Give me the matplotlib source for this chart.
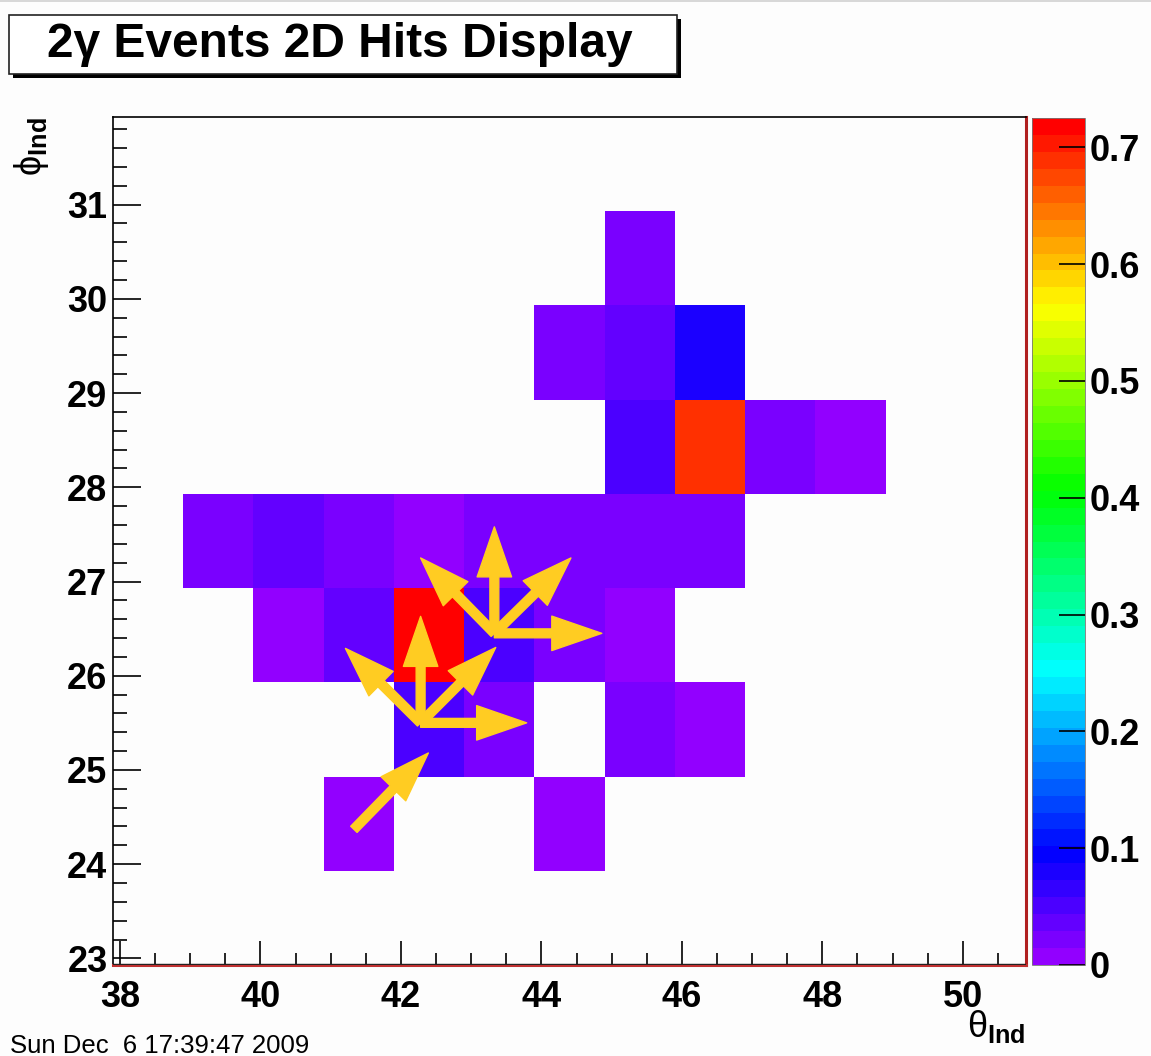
import colorsys
import numpy as np
import matplotlib
matplotlib.use("Agg")
import matplotlib.pyplot as plt
from matplotlib.colors import ListedColormap, Normalize
from matplotlib.patches import Rectangle, FancyArrowPatch
from matplotlib.ticker import MultipleLocator

# ---------------- data ----------------
theta_edges_start = 37.9      # first bin edge of theta axis
phi_edges_start = 22.93       # first bin edge of phi axis
n_theta_bins = 13
n_phi_bins = 9

# occupied bins (bin centers) and their values
hit_theta = [41.4, 44.4,
             42.4, 43.4, 45.4, 46.4,
             40.4, 41.4, 42.4, 43.4, 44.4, 45.4,
             39.4, 40.4, 41.4, 42.4, 43.4, 44.4, 45.4, 46.4,
             45.4, 46.4, 47.4, 48.4,
             44.4, 45.4, 46.4,
             45.4]
hit_phi = [24.43, 24.43,
           25.43, 25.43, 25.43, 25.43,
           26.43, 26.43, 26.43, 26.43, 26.43, 26.43,
           27.43, 27.43, 27.43, 27.43, 27.43, 27.43, 27.43, 27.43,
           28.43, 28.43, 28.43, 28.43,
           29.43, 29.43, 29.43,
           30.43]
hit_value = [0.007, 0.007,
             0.051, 0.022, 0.022, 0.007,
             0.007, 0.036, 0.725, 0.051, 0.022, 0.007,
             0.022, 0.036, 0.022, 0.007, 0.022, 0.022, 0.022, 0.022,
             0.051, 0.689, 0.022, 0.007,
             0.022, 0.036, 0.080,
             0.022]

# arrows (data coordinates): tail -> head
arrow_x0 = [41.33, 42.28, 42.28, 42.28, 42.28, 43.33, 43.33, 43.33, 43.33]
arrow_y0 = [24.37, 25.50, 25.50, 25.50, 25.50, 26.45, 26.45, 26.45, 26.45]
arrow_x1 = [42.39, 42.28, 41.21, 43.35, 43.79, 43.33, 42.28, 44.42, 44.86]
arrow_y1 = [25.18, 26.63, 26.29, 26.30, 25.50, 27.58, 27.25, 27.25, 26.45]

x_ticks = [38, 40, 42, 44, 46, 48, 50]
y_ticks = [23, 24, 25, 26, 27, 28, 29, 30, 31]
z_ticks = [0, 0.1, 0.2, 0.3, 0.4, 0.5, 0.6, 0.7]
z_tick_labels = ["0", "0.1", "0.2", "0.3", "0.4", "0.5", "0.6", "0.7"]

title_text = "2\u03b3 Events 2D Hits Display"
date_text = "Sun Dec  6 17:39:47 2009"

# ---------------- ROOT "pretty" palette ----------------
pal = []
for i in range(50):
    hue = 280.0 - (i + 1) * (280.0 / 50)
    pal.append(colorsys.hls_to_rgb(hue / 360.0, 0.5, 1.0))
cmap = ListedColormap(pal)
cmap.set_bad((1, 1, 1, 0))

W, H = 1151, 1056
fig = plt.figure(figsize=(W / 100, H / 100), dpi=100)
fig.patch.set_facecolor("#fdfdfd")

FONT = "Liberation Sans"
plt.rcParams["mathtext.fontset"] = "custom"
plt.rcParams["mathtext.rm"] = FONT
plt.rcParams["mathtext.bf"] = FONT + ":bold"
plt.rcParams["mathtext.it"] = FONT + ":italic"


def fx(px):
    return px / W


def fy(py):
    return 1 - py / H


ax = fig.add_axes([fx(113), fy(965), fx(1026) - fx(113), fy(117) - fy(965)])
ax.set_facecolor("#fdfdfd")

xe = theta_edges_start + np.arange(n_theta_bins + 1)
ye = phi_edges_start + np.arange(n_phi_bins + 1)
Z = np.full((n_phi_bins, n_theta_bins), np.nan)
for t, p, v in zip(hit_theta, hit_phi, hit_value):
    ix = int(np.floor(t - theta_edges_start))
    iy = int(np.floor(p - phi_edges_start))
    Z[iy, ix] = v
zmax = max(hit_value)
norm = Normalize(vmin=0, vmax=zmax)
mesh = ax.pcolormesh(xe, ye, np.ma.masked_invalid(Z), cmap=cmap, norm=norm,
                     linewidth=0, antialiased=False)

ax.set_xlim(xe[0], xe[-1])
ax.set_ylim(ye[0], ye[-1])
ax.set_xticks(x_ticks)
ax.set_yticks(y_ticks)
ax.xaxis.set_minor_locator(MultipleLocator(0.5))
ax.yaxis.set_minor_locator(MultipleLocator(0.2))
ax.tick_params(axis="x", which="major", direction="in", length=17, width=1.2,
               pad=11, labelsize=26, top=False)
ax.tick_params(axis="x", which="minor", direction="in", length=8.5, width=1.2,
               top=False)
ax.tick_params(axis="y", which="major", direction="in", length=20, width=1.2,
               pad=4, labelsize=26, right=False)
ax.tick_params(axis="y", which="minor", direction="in", length=10, width=1.2,
               right=False)
for lab in ax.get_xticklabels() + ax.get_yticklabels():
    lab.set_fontfamily(FONT)
    lab.set_fontweight("bold")
ax.spines["right"].set_color("#b02020")
ax.spines["right"].set_linewidth(2.2)
ax.spines["bottom"].set_color("#c03030")
ax.spines["bottom"].set_linewidth(2.2)
ax.spines["left"].set_linewidth(1.2)
ax.spines["top"].set_linewidth(1.2)
ax.axhline(ye[0] + 0.006, color="#222222", lw=1.0, zorder=5)

for x0, y0, x1, y1 in zip(arrow_x0, arrow_y0, arrow_x1, arrow_y1):
    a = FancyArrowPatch((x0, y0), (x1, y1),
                        arrowstyle="simple,head_length=0.9,head_width=0.62,tail_width=0.16",
                        mutation_scale=40, color="#ffcc22", shrinkA=0, shrinkB=0,
                        zorder=6)
    ax.add_patch(a)

# colorbar
cax = fig.add_axes([fx(1032), fy(965), fx(1085) - fx(1032), fy(118) - fy(965)])
cb = fig.colorbar(mesh, cax=cax, ticks=z_ticks)
cb.outline.set_linewidth(0.6)
cb.outline.set_edgecolor("#777777")
cax.tick_params(direction="in", length=19, width=1.2, pad=3.5, labelsize=26,
                right=True, left=False)
cax.set_yticklabels(z_tick_labels)
for lab in cax.get_yticklabels():
    lab.set_fontfamily(FONT)
    lab.set_fontweight("bold")

# axis titles
fig.text(fx(32), fy(117), r"$\mathrm{\phi}_{\mathbf{Ind}}$", rotation=90,
         ha="center", va="top", fontsize=26, family=FONT)
fig.text(fx(1026), fy(1008), r"$\mathrm{\theta}_{\mathbf{Ind}}$",
         ha="right", va="top", fontsize=26, family=FONT)

# title box with shadow
fig.add_artist(Rectangle((fx(13), fy(78)), fx(677) - fx(9), fy(15) - fy(74),
                         transform=fig.transFigure, facecolor="black",
                         edgecolor="black", lw=0))
fig.add_artist(Rectangle((fx(9), fy(74)), fx(677) - fx(9), fy(15) - fy(74),
                         transform=fig.transFigure, facecolor="white",
                         edgecolor="#222222", lw=1.2))
fig.text(fx(340), fy(57), title_text, ha="center", va="baseline",
         fontsize=34.5, fontweight="bold", family=FONT)

# date stamp at the bottom-left corner
fig.text(fx(10), fy(1053), date_text, ha="left", va="baseline", fontsize=18.5,
         family=FONT)

# thin gray band at very top
fig.add_artist(Rectangle((0, fy(2)), 1, fy(0) - fy(2), transform=fig.transFigure,
                         facecolor="#d8d8d8", lw=0))

fig.savefig("out.png", dpi=100, facecolor=fig.get_facecolor())
